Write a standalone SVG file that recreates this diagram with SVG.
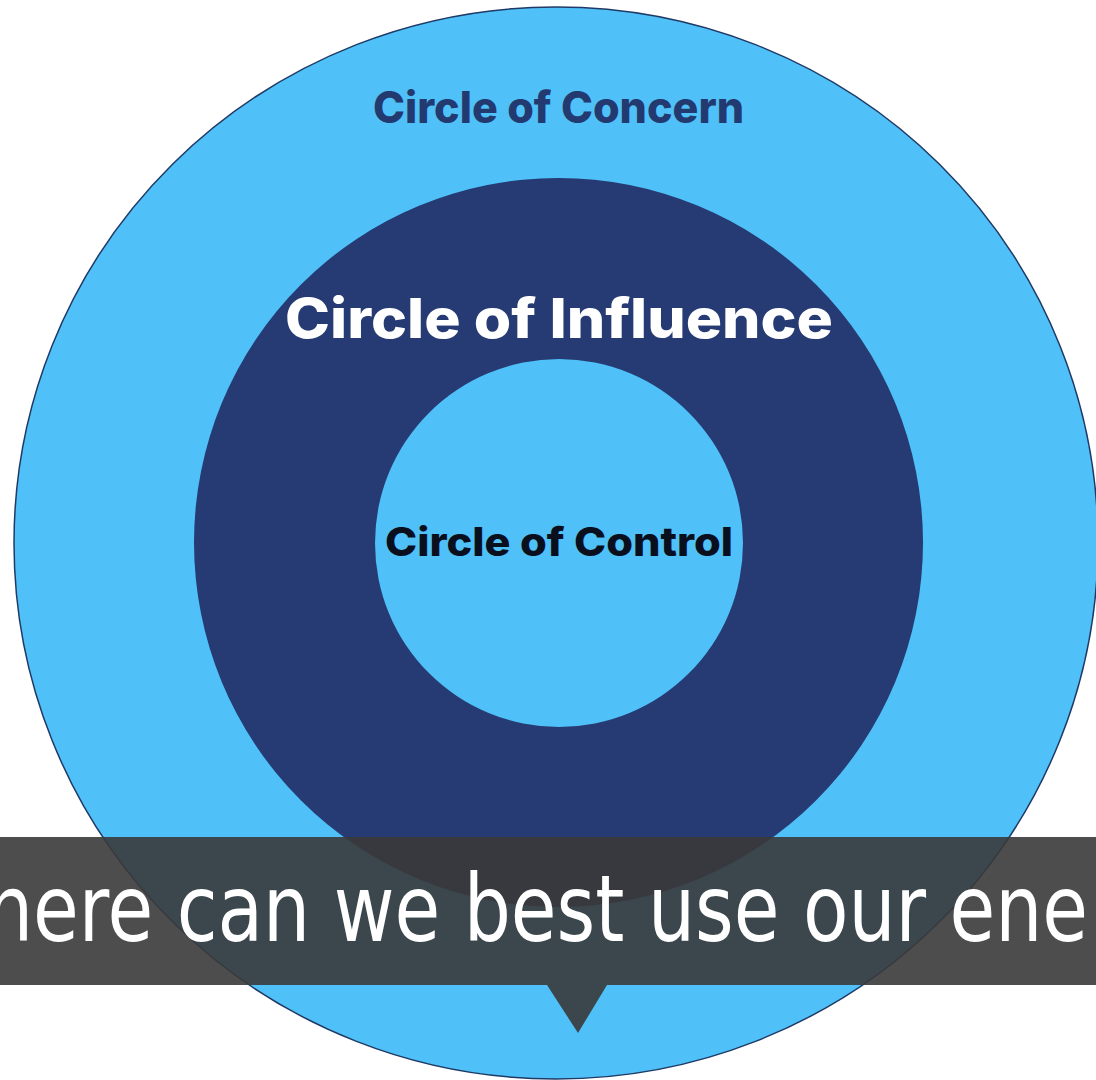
<svg xmlns="http://www.w3.org/2000/svg" width="1096" height="1080" viewBox="0 0 1096 1080">
  <style>
    .sky { fill: #4fc1f8; }
    .navy { fill: #263a73; }
    .label { font-family: Inter, "Open Sans", "Liberation Sans", sans-serif; font-weight: 800; text-anchor: start; }
    .caption { font-family: "DejaVu Sans Condensed", "DejaVu Sans", sans-serif; font-stretch: condensed; font-weight: 300; fill: #ffffff; }
  </style>
  <rect width="1096" height="1080" fill="#ffffff"/>

  <!-- outer ring: circle of concern -->
  <g id="concern">
    <ellipse class="sky" cx="556" cy="543" rx="542" ry="536" stroke="#1f3a66" stroke-width="1.5"/>
    <text class="label" x="373" y="123" font-size="44" fill="#233a70" textLength="371" lengthAdjust="spacingAndGlyphs">Circle of Concern</text>
  </g>

  <!-- middle ring: circle of influence -->
  <g id="influence">
    <circle class="navy" cx="558.5" cy="542.5" r="364.5"/>
    <text class="label" x="285" y="338" font-size="55" fill="#ffffff" textLength="548" lengthAdjust="spacingAndGlyphs">Circle of Influence</text>
  </g>

  <!-- inner disc: circle of control -->
  <g id="control">
    <circle class="sky" cx="559" cy="543" r="184"/>
    <text class="label" x="385" y="556" font-size="40" fill="#0a0f1e" textLength="348" lengthAdjust="spacingAndGlyphs">Circle of Control</text>
  </g>

  <!-- caption banner with pointer -->
  <g id="caption">
    <path d="M0 837 H1096 V985 H607 L578 1033 L547 985 H0 Z" fill="#3a3a3a" fill-opacity="0.9"/>
    <text class="caption" x="-14" y="941" font-size="92" textLength="1102" lengthAdjust="spacingAndGlyphs">here can we best use our ene</text>
  </g>
</svg>
